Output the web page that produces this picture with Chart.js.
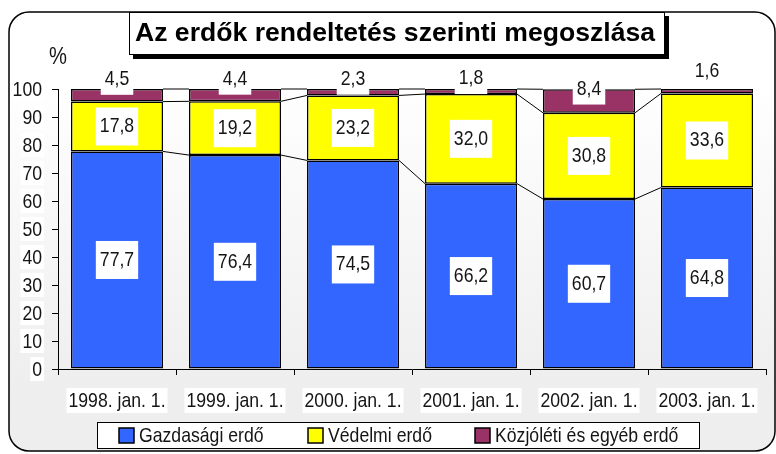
<!DOCTYPE html>
<html>
<head>
<meta charset="utf-8">
<script src="https://cdn.jsdelivr.net/npm/chart.js@4.4.1/dist/chart.umd.min.js"></script>
<style>
  html, body { margin: 0; padding: 0; background: #fff; }
  #wrap { width: 776px; height: 454px; position: relative; }
</style>
</head>
<body>
<div id="wrap"><canvas id="chart"></canvas></div>
<script>
const categories = ["1998. jan. 1.", "1999. jan. 1.", "2000. jan. 1.", "2001. jan. 1.", "2002. jan. 1.", "2003. jan. 1."];
const gazdasagi = [77.7, 76.4, 74.5, 66.2, 60.7, 64.8];
const vedelmi = [17.8, 19.2, 23.2, 32.0, 30.8, 33.6];
const kozjoleti = [4.5, 4.4, 2.3, 1.8, 8.4, 1.6];
const seriesNames = ["Gazdasági erdő", "Védelmi erdő", "Közjóléti és egyéb erdő"];
const chartTitle = "Az erdők rendeltetés szerinti megoszlása";
const yUnit = "%";

const colors = ["#3366ff", "#ffff00", "#993366"];
// the small top labels sit a bit above their segment
const topLabelShift = [-16, -16, -13, -13, -12, -20];
const FAMILY = '"Liberation Sans", Arial, sans-serif';
const NARROW = 0.84; // fake "Arial Narrow" by squeezing Liberation Sans
const INK = "#141414";

const fmt = (v) => v.toFixed(1).replace(".", ",");

// draw text squeezed horizontally, returns drawn width
function narrowText(ctx, s, x, y, size, align, sx, weight) {
  ctx.save();
  ctx.font = (weight || "") + " " + size + "px " + FAMILY;
  ctx.textAlign = "left";
  ctx.textBaseline = "middle";
  const w = ctx.measureText(s).width * sx;
  const left = align === "center" ? x - w / 2 : align === "right" ? x - w : x;
  ctx.translate(left, y);
  ctx.scale(sx, 1);
  ctx.fillText(s, 0, 0);
  ctx.restore();
  return w;
}

function measure(ctx, s, size, sx, weight) {
  ctx.save();
  ctx.font = (weight || "") + " " + size + "px " + FAMILY;
  const w = ctx.measureText(s).width * sx;
  ctx.restore();
  return w;
}

const decor = {
  id: "decor",
  beforeDraw(chart) {
    const ctx = chart.ctx;
    ctx.save();
    ctx.fillStyle = "#fff";
    ctx.fillRect(0, 0, chart.width, chart.height);
    const g = ctx.createLinearGradient(0, 80, 0, 390);
    g.addColorStop(0, "#ffffff");
    g.addColorStop(1, "#eeeeee");
    ctx.beginPath();
    ctx.roundRect(9, 12, 766, 439, 20);
    ctx.fillStyle = g;
    ctx.fill();
    ctx.lineWidth = 1.5;
    ctx.strokeStyle = "#000";
    ctx.stroke();
    ctx.restore();
  },
  afterDatasetsDraw(chart) {
    const ctx = chart.ctx;
    ctx.save();
    // series lines between bars
    ctx.strokeStyle = "#000";
    ctx.lineWidth = 1;
    chart.data.datasets.forEach((ds, d) => {
      const bars = chart.getDatasetMeta(d).data;
      for (let i = 0; i < bars.length - 1; i++) {
        const a = bars[i], b = bars[i + 1];
        ctx.beginPath();
        ctx.moveTo(a.x + a.width / 2, a.y);
        ctx.lineTo(b.x - b.width / 2, b.y);
        ctx.stroke();
      }
    });
    // value labels
    chart.data.datasets.forEach((ds, d) => {
      const bars = chart.getDatasetMeta(d).data;
      bars.forEach((bar, i) => {
        const t = fmt(ds.data[i]);
        let cy = (bar.y + bar.base) / 2;
        let h = 38;
        if (d === 2) { cy += topLabelShift[i]; h = 31; }
        const w = measure(ctx, t, 21, NARROW) + 8;
        ctx.fillStyle = "#fff";
        ctx.fillRect(bar.x - w / 2, cy - h / 2, w, h);
        ctx.fillStyle = INK;
        narrowText(ctx, t, bar.x, cy, 21, "center", NARROW);
      });
    });
    ctx.restore();
  },
  afterDraw(chart) {
    const ctx = chart.ctx;
    const xs = chart.scales.x, ys = chart.scales.y;
    ctx.save();
    // y tick labels
    ys.ticks.forEach((tk, i) => {
      const y = ys.getPixelForTick(i);
      const t = String(tk.value);
      const w = measure(ctx, t, 21, NARROW);
      ctx.fillStyle = "#fff";
      ctx.fillRect(42 - w - 2, y - 12, w + 4, 24);
      ctx.fillStyle = INK;
      narrowText(ctx, t, 42, y + 1, 21, "right", NARROW);
    });
    // x tick labels
    xs.ticks.forEach((tk, i) => {
      const x = xs.getPixelForTick(i);
      const t = chart.data.labels[i];
      const w = measure(ctx, t, 21, NARROW);
      ctx.fillStyle = "#fff";
      ctx.fillRect(x - w / 2 - 2, 388, w + 4, 25);
      ctx.fillStyle = INK;
      narrowText(ctx, t, x, 401, 21, "center", NARROW);
    });
    // title box with shadow
    ctx.fillStyle = "#000";
    ctx.fillRect(133, 16, 536, 43);
    ctx.fillStyle = "#fff";
    ctx.fillRect(129, 12, 536, 43);
    ctx.strokeStyle = "#000";
    ctx.lineWidth = 1;
    ctx.strokeRect(129.5, 12.5, 535, 42);
    ctx.fillStyle = "#000";
    const tw = measure(ctx, chartTitle, 25, 1, "bold");
    narrowText(ctx, chartTitle, 395, 34, 25, "center", 520 / tw, "bold");
    // unit
    ctx.fillStyle = INK;
    narrowText(ctx, yUnit, 58, 57, 24, "center", NARROW);
    // legend
    ctx.fillStyle = "#fff";
    ctx.fillRect(97, 422, 603, 27);
    ctx.strokeStyle = "#000";
    ctx.lineWidth = 1;
    ctx.strokeRect(97.5, 422.5, 602, 26);
    const boxX = [119, 308, 475];
    seriesNames.forEach((name, k) => {
      ctx.fillStyle = colors[k];
      ctx.fillRect(boxX[k], 428, 15, 15);
      ctx.lineWidth = 1.5;
      ctx.strokeStyle = "#000";
      ctx.strokeRect(boxX[k], 428, 15, 15);
      ctx.fillStyle = INK;
      narrowText(ctx, name, boxX[k] + 20, 436, 21, "left", NARROW);
    });
    ctx.restore();
  }
};

const mkSet = (label, data, k) => ({
  label: label,
  data: data,
  backgroundColor: colors[k],
  borderColor: "#000",
  borderWidth: 1.5,
  borderSkipped: false,
  barPercentage: 0.78,
  categoryPercentage: 1
});

const hidden = "rgba(0,0,0,0)";

new Chart(document.getElementById("chart"), {
  type: "bar",
  data: {
    labels: categories,
    datasets: [
      mkSet(seriesNames[0], gazdasagi, 0),
      mkSet(seriesNames[1], vedelmi, 1),
      mkSet(seriesNames[2], kozjoleti, 2)
    ]
  },
  options: {
    responsive: true,
    maintainAspectRatio: false,
    animation: false,
    layout: { padding: { left: 0, right: 10, top: 89, bottom: 0 } },
    plugins: { legend: { display: false }, tooltip: { enabled: false } },
    scales: {
      x: {
        stacked: true,
        afterFit: (s) => { s.height = 85; },
        border: { color: "#000", width: 1 },
        grid: { offset: true, drawOnChartArea: false, drawTicks: true, tickLength: 6, color: "#000" },
        ticks: { color: hidden, autoSkip: false, maxRotation: 0, font: { size: 10 } }
      },
      y: {
        stacked: true,
        min: 0,
        max: 100,
        afterFit: (s) => { s.width = 58; },
        border: { color: "#000", width: 1 },
        grid: { drawOnChartArea: false, drawTicks: true, tickLength: 6, color: "#000" },
        ticks: { stepSize: 10, color: hidden, font: { size: 10 } }
      }
    }
  },
  plugins: [decor]
});
</script>
</body>
</html>
